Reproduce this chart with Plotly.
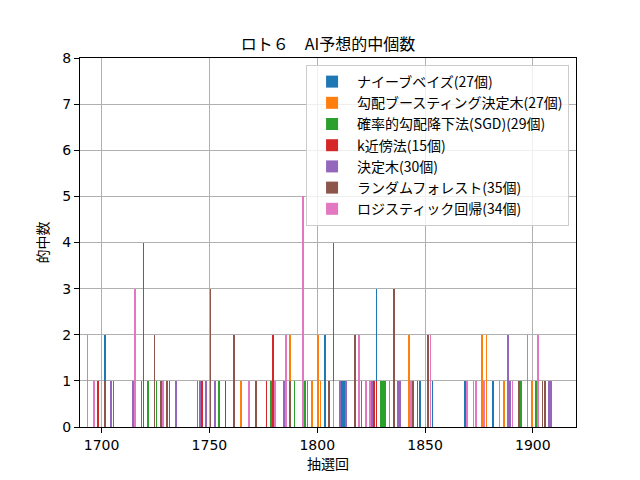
import plotly.graph_objects as go

# ---- data (draw number -> hit count) ----
nb_x = [1701, 1719, 1731, 1803, 1811, 1812, 1827, 1847, 1853, 1868, 1881]
nb_y = [2, 4, 1, 2, 1, 1, 3, 1, 1, 1, 1]

gb_x = [1764, 1787, 1797, 1800, 1801, 1833, 1842, 1876, 1878, 1886, 1897, 1899]
gb_y = [1, 2, 1, 2, 1, 1, 2, 2, 2, 1, 2, 1]

sgd_x = [1705, 1718, 1721, 1725, 1754, 1778, 1789, 1794, 1820, 1829, 1830, 1831, 1894, 1901]
sgd_y = [1, 1, 1, 1, 1, 1, 1, 1, 1, 1, 1, 1, 1, 1]

knn_x = [1698, 1746, 1757, 1776, 1779, 1826, 1827]
knn_y = [1, 1, 1, 1, 2, 1, 1]

dt_x = [1704, 1714, 1734, 1744, 1745, 1748, 1752, 1784, 1795, 1810, 1813, 1825,
        1837, 1838, 1888, 1889, 1907, 1908]
dt_y = [1, 1, 1, 1, 1, 1, 1, 1, 1, 1, 1, 1, 1, 1, 2, 1, 1, 1]

rf_x = [1701, 1724, 1727, 1730, 1750, 1761, 1771, 1787, 1805, 1807, 1817, 1835,
        1844, 1846, 1851, 1893, 1904, 1905]
rf_y = [1, 2, 1, 1, 3, 2, 1, 1, 1, 4, 2, 3, 1, 1, 2, 1, 1, 1]

lr_x = [1693, 1696, 1715, 1728, 1768, 1780, 1785, 1793, 1807, 1819, 1822, 1824,
        1843, 1852, 1869, 1872, 1873, 1877, 1884, 1890, 1902]
lr_y = [2, 1, 3, 1, 1, 1, 2, 5, 1, 2, 1, 1, 1, 2, 1, 1, 1, 1, 1, 1, 2]

series_names = [
    "ナイーブベイズ(27個)",
    "勾配ブースティング決定木(27個)",
    "確率的勾配降下法(SGD)(29個)",
    "k近傍法(15個)",
    "決定木(30個)",
    "ランダムフォレスト(35個)",
    "ロジスティック回帰(34個)",
]
series_x = [nb_x, gb_x, sgd_x, knn_x, dt_x, rf_x, lr_x]
series_y = [nb_y, gb_y, sgd_y, knn_y, dt_y, rf_y, lr_y]
colors = ["#1f77b4", "#ff7f0e", "#2ca02c", "#d62728", "#9467bd", "#8c564b", "#e377c2"]

x_ticks = [1700, 1750, 1800, 1850, 1900]
y_ticks = [0, 1, 2, 3, 4, 5, 6, 7, 8]

title_text = "ロト６　AI予想的中個数"
x_label = "抽選回"
y_label = "的中数"

JP = "Noto Sans CJK JP, DejaVu Sans, sans-serif"
NUM = "DejaVu Sans, sans-serif"

fig = go.Figure()
bar_w = 0.35
for name, xs, ys, c in zip(series_names, series_x, series_y, colors):
    fig.add_trace(go.Bar(
        x=xs, y=ys, name=name,
        marker=dict(color=c, line=dict(width=0)),
        width=bar_w, offset=0.5 - bar_w / 2,
    ))

fig.update_layout(
    width=640, height=480,
    margin=dict(l=80, r=64, t=58, b=53),
    paper_bgcolor="white", plot_bgcolor="white",
    barmode="overlay",
    bargap=0,
    title=dict(text=title_text, x=(80 + 248) / 640, xanchor="center",
               y=1 - 44 / 480, yanchor="middle",
               font=dict(family=JP, size=16, color="black")),
    legend=dict(
        x=0.986, y=0.981, xanchor="right", yanchor="top",
        bgcolor="rgba(255,255,255,0.8)", bordercolor="#cccccc", borderwidth=1,
        font=dict(family=JP, size=14, color="black"),
        tracegroupgap=0, itemwidth=40,
    ),
    showlegend=True,
)

fig.update_xaxes(
    range=[1690, 1920], automargin=False,
    tickvals=x_ticks, ticktext=[str(v) for v in x_ticks],
    showgrid=True, gridcolor="#b0b0b0", gridwidth=1,
    showline=True, linecolor="black", linewidth=1, mirror=True,
    ticks="outside", ticklen=5, tickcolor="black", tickwidth=1,
    tickfont=dict(family=NUM, size=14, color="black"),
    title=dict(text=x_label, font=dict(family=JP, size=14, color="black"), standoff=6),
    zeroline=False,
)
fig.update_yaxes(
    range=[0, 8], automargin=False,
    tickvals=y_ticks, ticktext=[str(v) for v in y_ticks],
    showgrid=True, gridcolor="#b0b0b0", gridwidth=1,
    showline=True, linecolor="black", linewidth=1, mirror=True,
    ticks="outside", ticklen=5, tickcolor="black", tickwidth=1,
    tickfont=dict(family=NUM, size=14, color="black"),
    title=dict(text=y_label, font=dict(family=JP, size=14, color="black"), standoff=10),
    zeroline=False,
)

fig.write_html("out.html")
